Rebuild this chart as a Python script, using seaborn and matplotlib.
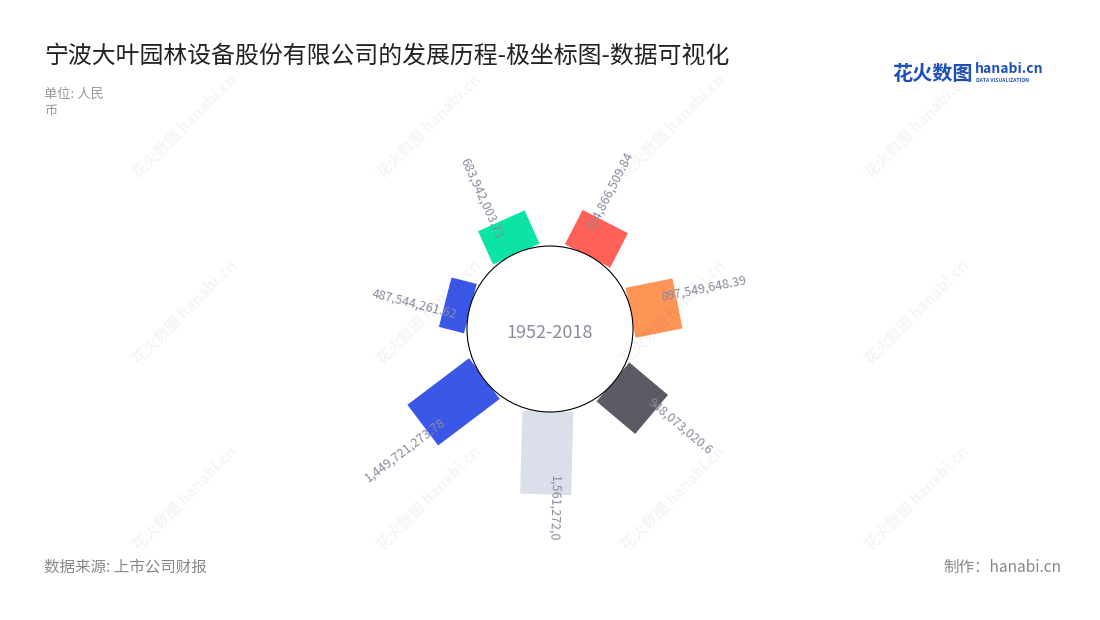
import numpy as np
import matplotlib
matplotlib.use('Agg')
import matplotlib.pyplot as plt
import seaborn as sns

# values (yuan), clockwise from the top
values = [724866509.84, 897549648.39, 948073020.6, 1561272013.47,
          1449721273.78, 487544261.62, 683942003.73]
colors = ['#ff6058', '#ff9457', '#5b5b66', '#dadfea',
          '#3a57e8', '#3a57e8', '#0be4a4']
period = '1952-2018'
title = '宁波大叶园林设备股份有限公司的发展历程-极坐标图-数据可视化'
unit = '单位: 人民\n币'
source = '数据来源: 上市公司财报'
maker = '制作：hanabi.cn'

sns.set_theme(style='white')
plt.rcParams['font.family'] = ['Noto Sans CJK SC', 'DejaVu Sans']


def fmt(v):
    s = f'{v:,.2f}'
    return s.rstrip('0').rstrip('.')


fig = plt.figure(figsize=(11, 6.2), dpi=100)
ax = fig.add_axes([250 / 1100, 80 / 620, 600 / 1100, 410 / 620])
PX = 5.33  # pixels per 1e8 yuan
ax.set_xlim(-300 / PX, 300 / PX)
ax.set_ylim(-211 / PX, 199 / PX)
ax.axis('off')

hole = 82.2 / PX
bw = 51 / PX
n = len(values)
for i, (v, c) in enumerate(zip(values, colors)):
    th = np.deg2rad(90 - (i + 0.5) * 360 / n - 1.5)
    u = np.array([np.cos(th), np.sin(th)])
    t = np.array([-np.sin(th), np.cos(th)])
    r1 = hole + v / 1e8
    pts = [hole * u - bw / 2 * t, r1 * u - bw / 2 * t,
           r1 * u + bw / 2 * t, hole * u + bw / 2 * t]
    ax.fill([p[0] for p in pts], [p[1] for p in pts], color=c, lw=0, zorder=2)

    # value label along the radius, kept readable
    pos = (r1 + 29 / PX) * u + 9 / PX * t
    rot = np.rad2deg(th)
    if np.cos(th) < -0.1:
        rot -= 180
    ax.text(pos[0], pos[1], fmt(v), rotation=rot, rotation_mode='anchor',
            ha='center', va='center', fontsize=9, color='#8a8aa0',
            zorder=4, clip_on=True)

ax.add_patch(plt.Circle((0, 0), 83 / PX, fc='white', ec='black', lw=0.8, zorder=3))
ax.text(0, -4 / PX, period, ha='center', va='center', fontsize=13,
        color='#8c8ca0', zorder=4)

# titles and notes
fig.text(44 / 1100, 1 - 56 / 620, title, fontsize=17.2, color='#222222', va='center')
fig.text(44 / 1100, 1 - 88 / 620, unit, fontsize=9.5, color='#999999', va='top',
         linespacing=1.35)
fig.text(44 / 1100, 1 - 567 / 620, source, fontsize=11.2, color='#888888', va='center')
fig.text(1061 / 1100, 1 - 567 / 620, maker, fontsize=11.2, color='#888888',
         va='center', ha='right')

# logo
fig.text(892 / 1100, 1 - 73 / 620, '花火数图', fontsize=14.5, weight='bold',
         color='#1f4fb8', va='center')
fig.text(975 / 1100, 1 - 69 / 620, 'hanabi.cn', fontsize=10, weight='bold',
         color='#1f4fb8', va='center')
fig.text(976 / 1100, 1 - 80 / 620, 'DATA VISUALIZATION', fontsize=3.6,
         weight='bold', color='#1f4fb8', va='center')

# watermark
for wx in [185, 429, 673, 917]:
    for wy in [126, 312, 498]:
        fig.text(wx / 1100, 1 - wy / 620, '花火数图 hanabi.cn', rotation=45,
                 ha='center', va='center', fontsize=11, weight='bold',
                 color='#000000', alpha=0.045, zorder=10)

fig.savefig('out.png', dpi=100)
